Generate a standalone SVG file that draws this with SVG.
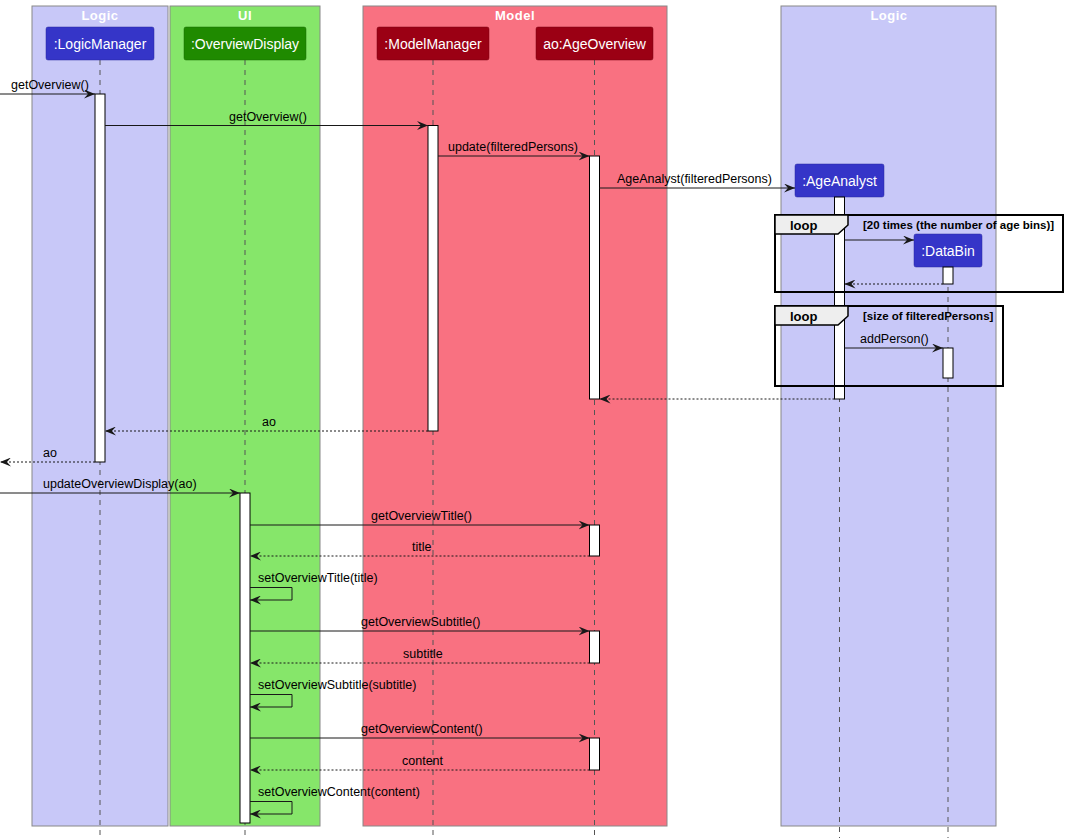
<svg xmlns="http://www.w3.org/2000/svg" width="1068" height="838" viewBox="0 0 1068 838">
<defs>
<style>
.grp{stroke:#888;stroke-width:1}
.gt{font-family:"Liberation Sans",Arial,sans-serif;font-size:13px;font-weight:bold;fill:#fff;text-anchor:middle;letter-spacing:0.5px}
.pt{font-family:"Liberation Sans",Arial,sans-serif;font-size:14px;fill:#fff;text-anchor:middle}
.life{stroke:#555;stroke-width:1;stroke-dasharray:5,5;fill:none}
.act{fill:#fff;stroke:#000;stroke-width:1}
.msg{stroke:#181818;stroke-width:1;fill:none;marker-end:url(#ah)}
.ret{stroke:#181818;stroke-width:1;fill:none;stroke-dasharray:2,2;marker-end:url(#ah)}
.ml{font-family:"Liberation Sans",Arial,sans-serif;font-size:12.5px;fill:#000}
.lp{font-family:"Liberation Sans",Arial,sans-serif;font-size:13px;font-weight:bold;fill:#000}
.gd{font-family:"Liberation Sans",Arial,sans-serif;font-size:11.5px;font-weight:bold;fill:#000}
.frame{fill:none;stroke:#000;stroke-width:2}
.tab{fill:#EEEEEE;stroke:#000;stroke-width:1.5}
</style>
<marker id="ah" markerWidth="11" markerHeight="9" refX="11" refY="4.5" orient="auto" markerUnits="userSpaceOnUse">
<path d="M0,0 L11,4.5 L0,9 L4,4.5 Z" fill="#181818"/>
</marker>
</defs>
<rect width="1068" height="838" fill="#fff"/>

<g id="box-logic-left">
<rect class="grp" x="32" y="6" width="136" height="820" fill="#C8C8F8"/>
<text class="gt" x="100" y="20">Logic</text>
</g>
<g id="box-ui">
<rect class="grp" x="170" y="6" width="150" height="820" fill="#86E66A"/>
<text class="gt" x="245" y="20">UI</text>
</g>
<g id="box-model">
<rect class="grp" x="363" y="6" width="304" height="820" fill="#F97181"/>
<text class="gt" x="515" y="20">Model</text>
</g>
<g id="box-logic-right">
<rect class="grp" x="781" y="6" width="215" height="820" fill="#C8C8F8"/>
<text class="gt" x="889" y="20">Logic</text>
</g>

<g id="lifelines">
<line class="life" x1="100" y1="60" x2="100" y2="838"/>
<line class="life" x1="245" y1="60" x2="245" y2="838"/>
<line class="life" x1="433" y1="60" x2="433" y2="838"/>
<line class="life" x1="594.5" y1="60" x2="594.5" y2="838"/>
<line class="life" x1="839.5" y1="197" x2="839.5" y2="838"/>
<line class="life" x1="948" y1="267" x2="948" y2="838"/>
</g>

<g id="p-logicmanager">
<rect x="46" y="27" width="108" height="33" rx="2" fill="#3535C8" stroke="#2a2aa0" stroke-width="0.5"/>
<text class="pt" x="100" y="49">:LogicManager</text>
</g>
<g id="p-overviewdisplay">
<rect x="184" y="27" width="122" height="33" rx="2" fill="#1F8A00" stroke="#176800" stroke-width="0.5"/>
<text class="pt" x="245" y="49">:OverviewDisplay</text>
</g>
<g id="p-modelmanager">
<rect x="377" y="27" width="112" height="33" rx="2" fill="#9B0014" stroke="#780010" stroke-width="0.5"/>
<text class="pt" x="433" y="49">:ModelManager</text>
</g>
<g id="p-ageoverview">
<rect x="536" y="27" width="117" height="33" rx="2" fill="#9B0014" stroke="#780010" stroke-width="0.5"/>
<text class="pt" x="594.5" y="49">ao:AgeOverview</text>
</g>
<g id="p-ageanalyst">
<rect x="795" y="164" width="89" height="33" rx="2" fill="#3535C8" stroke="#2a2aa0" stroke-width="0.5"/>
<text class="pt" x="839.5" y="186">:AgeAnalyst</text>
</g>
<g id="p-databin">
<rect x="914" y="234" width="68" height="33" rx="2" fill="#3535C8" stroke="#2a2aa0" stroke-width="0.5"/>
<text class="pt" x="948" y="256">:DataBin</text>
</g>

<g id="activations">
<rect class="act" x="95" y="94" width="10" height="368"/>
<rect class="act" x="428" y="125.5" width="10" height="305.5"/>
<rect class="act" x="589.5" y="156" width="10" height="243"/>
<rect class="act" x="834.5" y="197" width="10" height="202"/>
<rect class="act" x="943" y="267" width="10" height="17"/>
<rect class="act" x="943" y="348" width="10" height="30"/>
<rect class="act" x="240" y="493" width="10" height="330"/>
<rect class="act" x="589.5" y="525" width="10" height="31"/>
<rect class="act" x="589.5" y="631" width="10" height="32"/>
<rect class="act" x="589.5" y="738" width="10" height="32"/>
</g>

<g id="fragments">
<rect class="frame" x="775" y="215" width="288" height="77"/>
<path class="tab" d="M775,215 L848,215 L848,225 L838,234 L775,234 Z"/>
<text class="lp" x="790" y="230">loop</text>
<text class="gd" x="863" y="229">[20 times (the number of age bins)]</text>
<rect class="frame" x="775" y="306" width="228" height="80"/>
<path class="tab" d="M775,306 L848,306 L848,316 L838,325 L775,325 Z"/>
<text class="lp" x="790" y="321">loop</text>
<text class="gd" x="863" y="320">[size of filteredPersons]</text>
</g>

<g id="connectors">
<line class="msg" x1="0" y1="94" x2="95" y2="94"/>
<text class="ml" x="11" y="89">getOverview()</text>
<line class="msg" x1="105" y1="125.5" x2="428" y2="125.5"/>
<text class="ml" x="229" y="120.5">getOverview()</text>
<line class="msg" x1="438" y1="156" x2="589.5" y2="156"/>
<text class="ml" x="448" y="151">update(filteredPersons)</text>
<line class="msg" x1="599.5" y1="188" x2="795" y2="188"/>
<text class="ml" x="617" y="183">AgeAnalyst(filteredPersons)</text>
<line class="msg" x1="844.5" y1="240" x2="914" y2="240"/>
<line class="ret" x1="943" y1="284" x2="844.5" y2="284"/>
<line class="msg" x1="844.5" y1="348" x2="943" y2="348"/>
<text class="ml" x="860" y="343">addPerson()</text>
<line class="ret" x1="834.5" y1="399" x2="599.5" y2="399"/>
<line class="ret" x1="428" y1="431" x2="105" y2="431"/>
<text class="ml" x="262" y="426">ao</text>
<line class="ret" x1="95" y1="462" x2="0" y2="462"/>
<text class="ml" x="43" y="457">ao</text>
<line class="msg" x1="0" y1="493" x2="240" y2="493"/>
<text class="ml" x="43" y="488">updateOverviewDisplay(ao)</text>
<line class="msg" x1="250" y1="525" x2="589.5" y2="525"/>
<text class="ml" x="371" y="520">getOverviewTitle()</text>
<line class="ret" x1="589.5" y1="556" x2="250" y2="556"/>
<text class="ml" x="412" y="551">title</text>
<polyline class="msg" points="250,587.5 292,587.5 292,600 250,600"/>
<text class="ml" x="258" y="582">setOverviewTitle(title)</text>
<line class="msg" x1="250" y1="631" x2="589.5" y2="631"/>
<text class="ml" x="361" y="626">getOverviewSubtitle()</text>
<line class="ret" x1="589.5" y1="663" x2="250" y2="663"/>
<text class="ml" x="403" y="658">subtitle</text>
<polyline class="msg" points="250,694.5 292,694.5 292,707 250,707"/>
<text class="ml" x="258" y="689">setOverviewSubtitle(subtitle)</text>
<line class="msg" x1="250" y1="738" x2="589.5" y2="738"/>
<text class="ml" x="361" y="733">getOverviewContent()</text>
<line class="ret" x1="589.5" y1="770" x2="250" y2="770"/>
<text class="ml" x="402" y="765">content</text>
<polyline class="msg" points="250,801.5 292,801.5 292,814 250,814"/>
<text class="ml" x="258" y="796">setOverviewContent(content)</text>
</g>
</svg>
